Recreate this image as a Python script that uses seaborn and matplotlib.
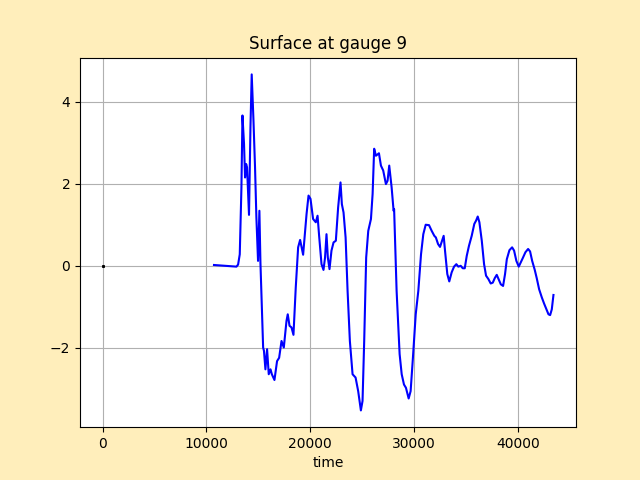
import numpy as np
import matplotlib
matplotlib.use('Agg')
import matplotlib.pyplot as plt
from matplotlib.ticker import MultipleLocator
import seaborn as sns

# gauge 9 surface elevation
time = [10730, 12890, 13050, 13210, 13370, 13470, 13620, 13720, 13820, 13910,
        14100, 14240, 14360, 14530, 14680, 14810, 14970, 15100, 15200, 15460,
        15540, 15680, 15840, 16000, 16170, 16300, 16550, 16800, 17000, 17230,
        17450, 17710, 17830, 18000, 18190, 18380, 18600, 18830, 19020, 19310,
        19640, 19830, 20020, 20270, 20530, 20700, 20850, 21080, 21270, 21420,
        21560, 21690, 21850, 22040, 22240, 22460, 22680, 22910, 23040, 23200,
        23400, 23590, 23810, 24070, 24360, 24610, 24870, 25030, 25190, 25380,
        25580, 25840, 26000, 26150, 26320, 26610, 26800, 27020, 27280, 27440,
        27600, 27830, 28020, 28070, 28310, 28600, 28800, 29020, 29210, 29470,
        29660, 29880, 30150, 30400, 30660, 30880, 31110, 31430, 31690, 31940,
        32090, 32300, 32490, 32680, 32840, 32970, 33190, 33380, 33610, 33840,
        34060, 34250, 34480, 34680, 34870, 35060, 35280, 35540, 35790, 35960,
        36120, 36280, 36510, 36730, 36920, 37140, 37370, 37570, 37760, 37950,
        38150, 38340, 38560, 38750, 38920, 39170, 39430, 39620, 39840, 40070,
        40260, 40460, 40710, 40970, 41160, 41360, 41610, 41800, 42030, 42290,
        42510, 42730, 42930, 43090, 43250, 43410]
surface = [0.02, -0.02, 0.03, 0.28, 1.9, 3.66, 2.97, 2.15, 2.48, 2.4,
           1.24, 3.37, 4.66, 3.54, 2.4, 1.18, 0.12, 1.34, 0.08, -1.99,
           -2.07, -2.52, -2.03, -2.64, -2.52, -2.64, -2.78, -2.32, -2.24, -1.83,
           -1.99, -1.34, -1.18, -1.46, -1.5, -1.68, -0.53, 0.45, 0.63, 0.27,
           1.26, 1.71, 1.63, 1.14, 1.06, 1.22, 0.73, 0.04, -0.1, 0.2,
           0.77, 0.2, -0.08, 0.37, 0.57, 0.61, 1.42, 2.03, 1.5, 1.3,
           0.69, -0.61, -1.83, -2.64, -2.72, -3.05, -3.52, -3.29, -1.83, 0.2,
           0.85, 1.14, 1.75, 2.85, 2.68, 2.74, 2.44, 2.32, 1.99, 2.07,
           2.44, 1.91, 1.34, 1.38, -0.61, -2.15, -2.64, -2.89, -2.97, -3.23,
           -3.05, -2.24, -1.18, -0.61, 0.28, 0.77, 1.0, 0.99, 0.85, 0.73,
           0.69, 0.53, 0.46, 0.61, 0.73, 0.37, -0.2, -0.38, -0.16, -0.02,
           0.04, -0.02, 0.0, -0.06, -0.06, 0.24, 0.49, 0.73, 1.02, 1.1,
           1.2, 1.06, 0.61, 0.04, -0.24, -0.32, -0.43, -0.41, -0.3, -0.22,
           -0.34, -0.45, -0.49, -0.2, 0.16, 0.38, 0.45, 0.37, 0.12, -0.02,
           0.08, 0.19, 0.33, 0.41, 0.35, 0.12, -0.1, -0.3, -0.57, -0.77,
           -0.92, -1.06, -1.18, -1.2, -1.06, -0.71]

# initial value at t = 0
t0 = [0]
s0 = [0.0]

fig, ax = plt.subplots(figsize=(6.4, 4.8), dpi=100)
fig.patch.set_facecolor('#ffeebb')

sns.lineplot(x=time, y=surface, color='blue', linewidth=1.5, ax=ax)
ax.plot(t0, s0, 's', color='black', markersize=1.2)

ax.yaxis.set_major_locator(MultipleLocator(2))
ax.set_title('Surface at gauge 9')
ax.set_xlabel('time')
ax.grid(True)

plt.savefig('out.png', facecolor=fig.get_facecolor())
